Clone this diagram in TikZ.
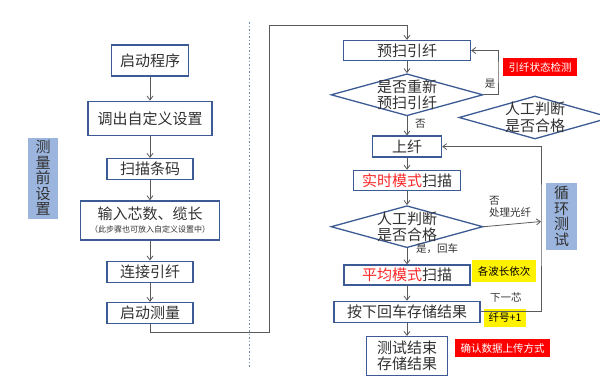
\documentclass[tikz,border=0pt]{standalone}
\usepackage{fontspec}
\setmainfont{Noto Sans CJK SC}
\usepackage{xcolor}
\usetikzlibrary{shapes.geometric,arrows.meta,positioning}
\definecolor{boxblue}{RGB}{60,90,148}
\definecolor{tagblue}{RGB}{155,181,222}
\definecolor{txtgray}{RGB}{50,50,50}
\definecolor{linegray}{RGB}{90,90,90}
\definecolor{hotred}{RGB}{250,40,40}

\begin{document}
\begin{tikzpicture}[
  x=1pt, y=1pt,
  proc/.style={draw=boxblue, line width=1.3pt, rectangle, minimum height=20pt, inner sep=2pt, align=center, font=\fontsize{15}{16}\selectfont, text=txtgray, fill=white},
  dia/.style={draw=boxblue, line width=1.3pt, diamond, minimum width=152pt, minimum height=42pt, inner sep=0pt, fill=white},
  dtxt/.style={align=center, font=\fontsize{15}{16}\selectfont, text=txtgray, inner sep=0pt},
  tag/.style={rectangle, inner sep=0pt, align=center, font=\fontsize{15}{15.5}\selectfont, text=txtgray, fill=tagblue},
  note/.style={rectangle, inner sep=0pt, font=\fontsize{10.5}{12}\selectfont},
  rednote/.style={note, fill=red, text=white},
  yelnote/.style={note, fill=yellow, text=black},
  lbl/.style={font=\fontsize{10.5}{12}\selectfont, text=txtgray, inner sep=1pt, align=left},
  arr/.style={-{Straight Barb[length=4pt,width=6pt]}, line width=0.8pt, draw=linegray},
  divider/.style={draw=boxblue!70, line width=0.8pt, dash pattern=on 1.5pt off 2pt}
]

\useasboundingbox (0,0) rectangle (600,-378);

% setup before measuring
\node[proc, minimum width=77pt, minimum height=31pt] (start) at (150,-60.5) {启动程序};
\node[proc, minimum width=124pt, minimum height=34pt, below=24pt of start] (load) {调出自定义设置};
\node[proc, minimum width=86pt, minimum height=21pt, below=22pt of load] (scan) {扫描条码};
\node[proc, minimum width=139pt, minimum height=39pt, below=20pt of scan] (input) {输入芯数、缆长\\[-3pt]{\fontsize{8}{9}\selectfont （此步骤也可放入自定义设置中）}};
\node[proc, minimum width=86pt, minimum height=21pt, below=20pt of input] (fiber) {连接引纤};
\node[proc, minimum width=86pt, minimum height=21pt, below=19pt of fiber] (meas) {启动测量};

\node[tag, minimum width=30pt, minimum height=81pt] (setup) at (43,-178) {测\\量\\前\\设\\置};

\coordinate (divtop) at (249,-22);
\coordinate (divbot) at (249,-367);
\draw[divider] (divtop) -- (divbot);

% loop test
\node[proc, minimum width=127pt, minimum height=20pt] (prescan) at (407,-50.5) {预扫引纤};
\node[dia, below=12pt of prescan] (redo) {};
\node[dtxt] (redotxt) at (redo) {是否重新\\预扫引纤};
\node[proc, minimum width=69pt, minimum height=21pt, below=19pt of redo] (mount) {上纤};
\node[proc, minimum width=107pt, minimum height=20pt, below=12pt of mount] (live) {\textcolor{hotred}{实时模式}扫描};
\node[dia, below=14pt of live] (judge) {};
\node[dtxt] (judgetxt) at (judge) {人工判断\\是否合格};
\node[proc, minimum width=126pt, minimum height=20pt, below=16pt of judge] (avg) {\textcolor{hotred}{平均模式}扫描};
\node[proc, minimum width=146pt, minimum height=21pt, below=15pt of avg] (store) {按下回车存储结果};
\node[proc, minimum width=81pt, minimum height=39pt, below=13pt of store] (done) {测试结束\\存储结果};

\node[rednote, minimum width=74pt, minimum height=18pt] (check) at (540,-67) {引纤状态检测};
\node[dia, minimum height=43pt] (judgeside) at (535,-117.5) {};
\node[dtxt, font=\fontsize{15}{17.5}\selectfont] (judgesidetxt) at (judgeside) {人工判断\\是否合格};
\node[tag, minimum width=31pt, minimum height=67pt] (looptag) at (561.5,-216.5) {循\\环\\测\\试};
\node[yelnote, minimum width=64pt, minimum height=22pt] (waves) at (504,-271) {各波长依次};
\node[yelnote, minimum width=42pt, minimum height=18pt] (fibno) at (505,-318) {纤号+1};
\node[rednote, minimum width=95pt, minimum height=18pt] (upload) at (502.5,-348) {确认数据上传方式};

\draw[arr] (start) -- (load);
\draw[arr] (load) -- (scan);
\draw[arr] (scan) -- (input);
\draw[arr] (input) -- (fiber);
\draw[arr] (fiber) -- (meas);

\coordinate (lowturn) at (269,-332);
\coordinate (topturn) at (269,-25);
\draw[arr] (meas.south) |- (lowturn) -- (topturn) -| (prescan.north);

\draw[arr] (prescan) -- (redo);
\coordinate (yesturn) at (498,-72);
\draw[arr] (redo.east) -| (yesturn) |- (prescan.east);
\node[lbl] (yes1) at (490,-84) {是};
\draw[arr] (redo) -- (mount);
\node[lbl, anchor=west] (no1) at (414,-124) {否};
\draw[arr] (mount) -- (live);
\draw[arr] (live) -- (judge);

\coordinate (loopline) at (541,-221.5);
\draw[arr] (judge.east) -- (loopline);
\node[lbl, anchor=west] (no2) at (488,-207) {否\\处理光纤};
\draw[arr] (judge) -- (avg);
\node[lbl, anchor=west] (yes2) at (415,-249) {是，回车};
\draw[arr] (avg) -- (store);
\draw[arr] (store.east) -| (loopline) |- (mount.east);
\node[lbl, anchor=west] (nextcore) at (489,-297) {下一芯};
\draw[arr] (store) -- (done);

\end{tikzpicture}
\end{document}
